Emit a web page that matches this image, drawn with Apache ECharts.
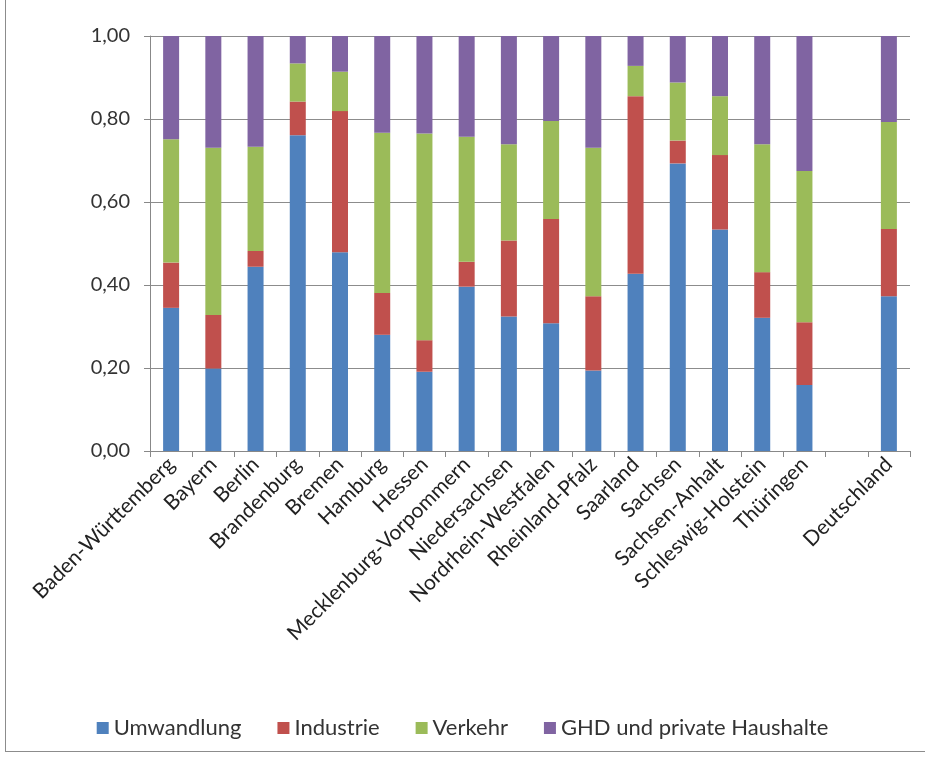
<!DOCTYPE html>
<html>
<head>
<meta charset="utf-8">
<script src="https://cdn.jsdelivr.net/npm/echarts@6/dist/echarts.min.js"></script>
<style>
  html, body { margin: 0; padding: 0; background: #fff; }
  #wrap { position: relative; width: 925px; height: 758px; overflow: hidden; }
  #frame { position: absolute; left: 5px; top: -5px; width: 940px; height: 755px; border: 1px solid #8c8c8c; }
  #chart { position: absolute; left: 0; top: 0; width: 925px; height: 758px; }
</style>
</head>
<body>
<div id="wrap">
  <div id="frame"></div>
  <div id="chart"></div>
</div>
<script>
// Bundeslaender + Deutschland (leere Kategorie als Abstand)
var laender = [
  "Baden-Württemberg", "Bayern", "Berlin", "Brandenburg", "Bremen", "Hamburg",
  "Hessen", "Mecklenburg-Vorpommern", "Niedersachsen", "Nordrhein-Westfalen",
  "Rheinland-Pfalz", "Saarland", "Sachsen", "Sachsen-Anhalt", "Schleswig-Holstein",
  "Thüringen", "", "Deutschland"
];

// Anteile je Sektor
var umwandlung = [0.345, 0.199, 0.444, 0.761, 0.479, 0.280, 0.191, 0.396, 0.324, 0.308, 0.194, 0.427, 0.693, 0.534, 0.321, 0.159, null, 0.373];
var industrie  = [0.109, 0.129, 0.038, 0.081, 0.340, 0.101, 0.076, 0.060, 0.183, 0.251, 0.179, 0.428, 0.055, 0.179, 0.110, 0.151, null, 0.162];
var verkehr    = [0.297, 0.403, 0.251, 0.092, 0.095, 0.386, 0.498, 0.301, 0.232, 0.236, 0.358, 0.073, 0.140, 0.142, 0.308, 0.365, null, 0.258];
var ghd        = [0.249, 0.269, 0.267, 0.066, 0.086, 0.233, 0.235, 0.243, 0.261, 0.205, 0.269, 0.072, 0.112, 0.145, 0.261, 0.325, null, 0.207];

var yTicks = [0, 0.2, 0.4, 0.6, 0.8, 1.0];

var chart = echarts.init(document.getElementById("chart"));

var fontName = "Lato";

function bar(name, data, color) {
  return {
    name: name,
    type: "bar",
    stack: "gesamt",
    barWidth: 16,
    itemStyle: { color: color },
    data: data,
  };
}

chart.setOption({
  animation: false,
  textStyle: { fontFamily: fontName },
  grid: { left: 150, right: 15, top: 36, bottom: 307 },
  legend: {
    top: 712,
    left: "center",
    itemWidth: 12,
    itemHeight: 12,
    itemGap: 36,
    icon: "rect",
    textStyle: { fontSize: 22, color: "#333", fontFamily: fontName },
    data: ["Umwandlung", "Industrie", "Verkehr", "GHD und private Haushalte"],
  },
  xAxis: {
    type: "category",
    data: laender,
    axisLine: { lineStyle: { color: "#888" } },
    axisTick: { show: true, length: 6, lineStyle: { color: "#888" } },
    axisLabel: {
      interval: 0,
      rotate: 45,
      fontSize: 21,
      color: "#222",
      margin: 10,
    },
  },
  yAxis: {
    type: "value",
    min: yTicks[0],
    max: yTicks[yTicks.length - 1],
    interval: 0.2,
    axisLine: { show: true, lineStyle: { color: "#888" } },
    axisTick: { show: true, length: 6, lineStyle: { color: "#888" } },
    splitLine: { lineStyle: { color: "#8c8c8c" } },
    axisLabel: {
      fontSize: 20,
      color: "#333",
      margin: 20,
      formatter: function (v) {
        return v.toFixed(2).replace(".", ",");
      },
    },
  },
  series: [
    bar("Umwandlung", umwandlung, "#4F81BD"),
    bar("Industrie", industrie, "#C0504D"),
    bar("Verkehr", verkehr, "#9BBB59"),
    bar("GHD und private Haushalte", ghd, "#8064A2"),
  ],
});
</script>
</body>
</html>
